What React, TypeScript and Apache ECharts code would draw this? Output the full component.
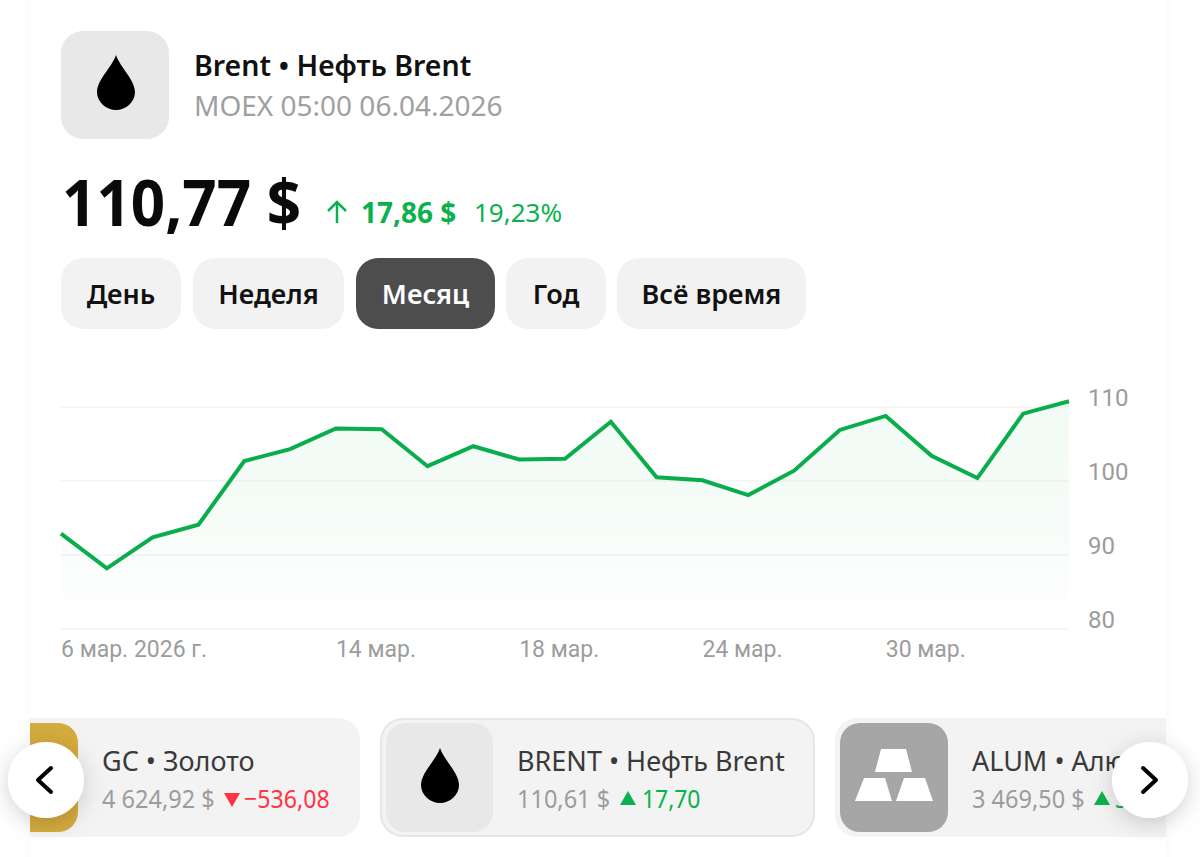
import React, { useEffect, useRef } from "react";
import * as echarts from "echarts";

const categories = ["6 мар. 2026 г.", "9 мар.", "10 мар.", "11 мар.", "12 мар.", "13 мар.", "14 мар.", "15 мар.", "16 мар.", "17 мар.", "18 мар.", "19 мар.", "20 мар.", "23 мар.", "24 мар.", "25 мар.", "26 мар.", "27 мар.", "30 мар.", "31 мар.", "1 апр.", "2 апр.", "3 апр."];
const prices = [92.9, 88.2, 92.4, 94.1, 102.7, 104.3, 107.1, 107.0, 102.0, 104.7, 102.9, 103.0, 108.0, 100.5, 100.1, 98.1, 101.4, 106.9, 108.8, 103.4, 100.4, 109.1, 110.77];
const shownLabels = [0, 6, 10, 14, 18];
const periods = ["День", "Неделя", "Месяц", "Год", "Всё время"];

const FONT = "'Noto Sans', sans-serif";
const AXIS_FONT = "Roboto, sans-serif";
const GREEN = "#0ab14e";
const LINE = "#0aad4b";
const RED = "#ff3344";
const GREY = "#9c9c9c";

echarts.graphic.registerShape(
  "drop",
  echarts.graphic.extendPath("M19 0 C15 12 0 25 0 37 C0 47 9 55 19 55 C29 55 38 47 38 37 C38 25 23 12 19 0 Z", {})
);

const txt = (x: number, y: number, text: string, fontSize: number, fill: string, fontWeight: any = 400, align = "left", sx = 1) => ({
  type: "text",
  x,
  y,
  scaleX: sx,
  style: { text, fontSize, fontFamily: FONT, fontWeight, fill, align, verticalAlign: "middle" },
});
const rect = (x: number, y: number, width: number, height: number, r: any, fill: any, extra: any = {}) => ({
  type: "rect",
  shape: { x, y, width, height, r },
  style: { fill, ...extra },
});
const poly = (points: number[][], fill: string) => ({ type: "polygon", shape: { points }, style: { fill } });
const drop = (x: number, y: number, s: number) => ({ type: "drop", x, y, scaleX: s, scaleY: s, style: { fill: "#000" } });
const chevron = (points: number[][]) => ({
  type: "polyline",
  shape: { points },
  style: { stroke: "#000", lineWidth: 4, fill: "none", lineCap: "round", lineJoin: "round" },
});
const button = (cx: number) => ({
  type: "circle",
  shape: { cx, cy: 780, r: 38 },
  style: { fill: "#fff", shadowBlur: 22, shadowColor: "rgba(0,0,0,0.18)", shadowOffsetY: 5 },
});
const edge = (x: number, toRight: boolean) =>
  rect(x, 0, 8, 857, 0, new echarts.graphic.LinearGradient(0, 0, 1, 0, [
    { offset: 0, color: toRight ? "rgba(0,0,0,0.012)" : "rgba(0,0,0,0)" },
    { offset: 1, color: toRight ? "rgba(0,0,0,0)" : "rgba(0,0,0,0.012)" },
  ]));

const buttonBoxes = [
  [61, 120],
  [193, 151],
  [356, 139],
  [506, 100],
  [617, 189],
];

const App = () => {
  const ref = useRef<HTMLDivElement>(null);
  useEffect(() => {
    const chart = echarts.init(ref.current!, undefined, { renderer: "svg" });
    chart.setOption({
      animation: false,
      backgroundColor: "#fff",
      grid: { left: 61, right: 131, top: 333, bottom: 228 },
      xAxis: {
        type: "category",
        data: categories,
        boundaryGap: false,
        axisLine: { show: false },
        axisTick: { show: false },
        splitLine: { show: false },
        axisLabel: {
          interval: (i: number) => shownLabels.includes(i),
          align: "left",
          fontSize: 23,
          fontFamily: AXIS_FONT,
          color: GREY,
          margin: 9,
        },
      },
      yAxis: {
        type: "value",
        position: "right",
        min: 80,
        max: 120,
        interval: 10,
        axisLine: { show: false },
        axisTick: { show: false },
        splitLine: { show: true, showMaxLine: false, lineStyle: { color: "#f3f3f3", width: 1.5 } },
        axisLabel: {
          showMaxLabel: false,
          fontSize: 24,
          fontFamily: AXIS_FONT,
          color: GREY,
          margin: 19,
          verticalAlign: "bottom",
          lineHeight: 19,
        },
      },
      series: [
        {
          type: "line",
          data: prices,
          showSymbol: false,
          lineStyle: { color: LINE, width: 4, join: "miter" },
          areaStyle: {
            color: new echarts.graphic.LinearGradient(0, 0, 0, 1, [
              { offset: 0, color: "rgba(10,177,78,0.08)" },
              { offset: 0.55, color: "rgba(10,177,78,0.05)" },
              { offset: 0.8, color: "rgba(10,177,78,0.02)" },
              { offset: 1, color: "rgba(10,177,78,0)" },
            ]),
          },
        },
      ],
      graphic: [
        {
          type: "group",
          silent: true,
          z: 10,
          children: [
            rect(61, 31, 108, 108, 22, "#e8e8e8"),
            drop(97, 55, 1),
            txt(194, 65, "Brent • Нефть Brent", 28.5, "#111", 600),
            txt(194, 105, "MOEX 05:00 06.04.2026", 28, "#a0a0a0"),
            txt(62, 201, "110,77 $", 64, "#0a0a0a", 700, "left", 0.94),
            {
              type: "polyline",
              shape: { points: [[328, 211], [337, 202], [346, 211]] },
              style: { stroke: GREEN, lineWidth: 2.5, fill: "none" },
            },
            { type: "line", shape: { x1: 337, y1: 202, x2: 337, y2: 223 }, style: { stroke: GREEN, lineWidth: 2.5 } },
            txt(361, 212, "17,86 $", 28, GREEN, 700),
            txt(474, 212, "19,23%", 26, GREEN),
            ...periods.flatMap((p, i) => {
              const [x, w] = buttonBoxes[i];
              const active = p === "Месяц";
              return [
                rect(x, 258, w, 71, 22, active ? "#4d4d4d" : "#f2f2f2"),
                txt(x + w / 2, 293, p, 27, active ? "#fff" : "#111", 600, "center"),
              ];
            }),
            rect(-40, 718, 400, 119, 22, "#f3f3f3"),
            rect(-40, 723, 118, 109, 20, "#d4ab3e"),
            txt(102, 760, "GC • Золото", 27, "#3a3a3a"),
            txt(102, 798, "4 624,92 $", 26, GREY, 400, "left", 0.905),
            poly([[224, 793], [240, 793], [232, 807]], RED),
            txt(244, 798, "−536,08", 26, RED, 400, "left", 0.89),
            rect(381, 719, 433, 117, 22, "#f3f3f3", { stroke: "#e6e6e6", lineWidth: 2 }),
            rect(386, 723, 107, 109, 20, "#e8e8e8"),
            drop(421, 748, 1),
            txt(517, 760, "BRENT • Нефть Brent", 27, "#3a3a3a"),
            txt(517, 798, "110,61 $", 26, GREY, 400, "left", 0.905),
            poly([[620, 805], [636, 805], [628, 791]], GREEN),
            txt(642, 798, "17,70", 26, GREEN, 400, "left", 0.88),
            rect(835, 718, 400, 119, 22, "#f3f3f3"),
            rect(840, 723, 108, 109, 20, "#a6a6a6"),
            poly([[881, 749], [906, 749], [912, 772], [875, 772]], "#fff"),
            poly([[864, 778], [885, 778], [892, 801], [855, 801]], "#fff"),
            poly([[904, 778], [925, 778], [933, 801], [896, 801]], "#fff"),
            txt(972, 760, "ALUM • Алюминий", 27, "#3a3a3a"),
            txt(972, 798, "3 469,50 $", 26, GREY, 400, "left", 0.905),
            poly([[1094, 805], [1110, 805], [1102, 791]], GREEN),
            txt(1115, 798, "3", 26, GREEN, 400, "left", 0.88),
            rect(0, 700, 30, 157, 0, "#fff"),
            rect(1166, 700, 34, 157, 0, "#fff"),
            edge(22, false),
            edge(1166, true),
            button(46),
            button(1150),
            chevron([[51, 768], [38, 780], [51, 792]]),
            chevron([[1143, 768], [1156, 780], [1143, 792]]),
          ],
        },
      ],
    });
    return () => chart.dispose();
  }, []);
  return <div ref={ref} style={{ position: "absolute", left: 0, top: 0, width: 1200, height: 857 }} />;
};

export default App;
